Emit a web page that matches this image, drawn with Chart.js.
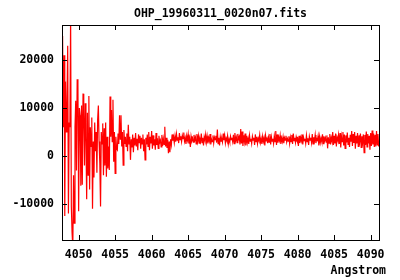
<!DOCTYPE html>
<html>
<head>
<meta charset="utf-8">
<script src="https://cdn.jsdelivr.net/npm/chart.js@4"></script>
<style>
  body { margin: 0; background: #fff; }
  canvas { display: block; }
</style>
</head>
<body>
<canvas id="spectrum" width="400" height="280"></canvas>
<script>
// wavelength grid of the spectrum (Angstrom)
const lambdaStart = 4047.7;
const lambdaStep = 0.1;

// flux: noisy blue end, 4047.7 - 4063.0
const fluxBlue = [
    8000, 25000, 6000, 21000, -12500, 15500, 5000, 10500, 23000, -12000,
    7000, 6000, 29000, -10500, -16000, -19000, -4000, -14000, 6000, 11500,
    -3000, 16000, 15000, -11500, 10000, 8500, -6200, 10500, -6000, 13000,
    9000, -2000, 11000, 4000, -9000, 9000, -4000, 12500, -7000, 6000,
    2000, 8000, -11000, 3000, -4500, 7000, 1000, 5000, -3500, 7500,
    10500, 3000, -1500, -10500, 5000, 2500, 6800, -4000, 5800, -2000,
    7000, -4300, 4000, -2600, 2000, -2900, 12400, 4000, 9600, 3000,
    11700, -1200, 5000, -3600, 4000, 1500, 1250, 4700, 2500, 8500,
    3500, 8500, 2000, 5000, -1900, 5400, 2500, 4000, 2000, 4700,
    1000, 6500, 2500, 4000, -800, 3500, 1800, 4500, 800, 3800,
    2200, 4800, 2000, 3600, 1200, 4500, 2800, 4200, 1500, 3800,
    2500, 4500, 1000, 3500, -800, 3800, 2400, 4500, 2000, 5000,
    1200, 4000, 2600, 5200, 1500, 4300, 2200, 3500, 1300, 4800,
    2300, 3700, 1600, 4200, 2800, 3300, 1900, 4400, 2100, 3600,
    2400, 6100, 2000, 3800, 1700, 3400, 600, 3000, 800, 3500,
    2400, 4500, 3200, 4000
];

// flux, quieter red part, 4063.1 - 4091.1
const fluxRed = [
    2800, 4200, 3000, 4600, 3300, 3900, 2700, 4800, 3400, 4100,
    3000, 4300, 3600, 4900, 3100, 3800, 2500, 4200, 3300, 4500,
    2600, 3500, 1900, 4100, 3200, 3700, 2900, 4400, 3300, 3900,
    2500, 4600, 3100, 4200, 2700, 3600, 3000, 4700, 2800, 3800,
    2200, 4000, 3300, 4500, 2900, 4100, 2600, 3800, 3100, 4600,
    2400, 3500, 3000, 4300, 2700, 3900, 3400, 4200, 2800, 5500,
    2600, 3800, 2200, 4000, 3100, 3600, 2900, 4700, 3300, 4300,
    2700, 3700, 3200, 4200, 2500, 3500, 2900, 4100, 3400, 3800,
    3000, 4400, 2600, 4800, 3200, 3900, 2800, 4600, 3500, 4000,
    2400, 5600, 2600, 5100, 2100, 4300, 3000, 4700, 2200, 4200,
    2800, 3700, 2500, 4300, 3100, 3600, 2600, 4100, 3300, 3800,
    2300, 4500, 3000, 4000, 2600, 3700, 3200, 4400, 2800, 3600,
    2500, 4100, 3000, 3800, 2200, 4300, 3300, 3700, 2700, 3900,
    2900, 4600, 2400, 4000, 3100, 3600, 2600, 4200, 3000, 5200,
    2300, 4500, 2800, 3900, 3200, 4300, 2500, 3700, 3000, 4000,
    2700, 3800, 3300, 4200, 2900, 3600, 3100, 4100, 2600, 3900,
    3000, 4400, 2500, 4700, 3200, 3800, 2800, 4000, 3400, 3700,
    2100, 4200, 2700, 3800, 3100, 4500, 2400, 3900, 3200, 3600,
    2600, 4300, 3000, 3700, 2300, 4100, 3300, 3800, 2800, 4600,
    2500, 3900, 3100, 4400, 2700, 3600, 3300, 4200, 2200, 4000,
    2800, 3700, 3000, 4500, 2600, 4100, 3200, 3800, 2900, 4300,
    1600, 3900, 2700, 4600, 2400, 3800, 3100, 5000, 2300, 4200,
    2600, 4700, 2000, 3900, 3300, 4400, 2500, 4800, 1800, 4100,
    3000, 5000, 2200, 4500, 1600, 4300, 2800, 4900, 2400, 3800,
    1900, 4400, 3000, 5200, 2100, 4600, 2700, 5000, 1500, 4200,
    2600, 4800, 2000, 4300, 3100, 4700, 1800, 4100, 2900, 4500,
    700, 4400, 2300, 5100, 1900, 4600, 2600, 4200, 1300, 4800,
    2100, 5300, 2400, 4700, 1900, 4400, 2000, 5200, 2300, 4600, 2000
];

const xTicks = [4050, 4055, 4060, 4065, 4070, 4075, 4080, 4085, 4090];
const yTicks = [-10000, 0, 10000, 20000];
const xRange = [4047.72, 4091.14];
const yRange = [-17500, 27300];

const flux = fluxBlue.concat(fluxRed);
const points = flux.map((f, i) => ({ x: +(lambdaStart + i * lambdaStep).toFixed(2), y: f }));

const FONT = "'DejaVu Sans Mono', 'Liberation Mono', monospace";

// gnuplot style frame with inward ticks, title and axis label
const framePlugin = {
    id: "frame",
    afterDraw(chart) {
        const { ctx, chartArea: a, scales } = chart;
        ctx.save();
        ctx.strokeStyle = "#000";
        ctx.lineWidth = 1;
        ctx.strokeRect(a.left + 0.5, a.top + 0.5, a.right - a.left, a.bottom - a.top);
        ctx.beginPath();
        xTicks.forEach(v => {
            const px = Math.round(scales.x.getPixelForValue(v)) + 0.5;
            ctx.moveTo(px, a.bottom); ctx.lineTo(px, a.bottom - 5);
            ctx.moveTo(px, a.top); ctx.lineTo(px, a.top + 5);
        });
        yTicks.forEach(v => {
            const py = Math.round(scales.y.getPixelForValue(v)) + 0.5;
            ctx.moveTo(a.left, py); ctx.lineTo(a.left + 5, py);
            ctx.moveTo(a.right, py); ctx.lineTo(a.right - 5, py);
        });
        ctx.stroke();

        ctx.fillStyle = "#000";
        ctx.font = "bold 11.5px " + FONT;
        ctx.textBaseline = "middle";
        ctx.textAlign = "center";
        ctx.fillText("OHP_19960311_0020n07.fits", (a.left + a.right) / 2, 14);
        ctx.textAlign = "right";
        ctx.fillText("Angstrom", 386, 271);
        ctx.restore();
    }
};

new Chart(document.getElementById("spectrum"), {
    type: "line",
    data: {
        datasets: [{
            data: points,
            borderColor: "#ff0000",
            borderWidth: 1.2,
            pointRadius: 0,
            tension: 0,
            fill: false
        }]
    },
    options: {
        responsive: false,
        animation: false,
        events: [],
        layout: { padding: { top: 25, right: 21, left: 0, bottom: 0 } },
        plugins: { legend: { display: false }, tooltip: { enabled: false } },
        scales: {
            x: {
                type: "linear",
                min: xRange[0],
                max: xRange[1],
                afterBuildTicks: s => { s.ticks = xTicks.map(v => ({ value: v })); },
                afterFit: s => { s.height = 40; },
                grid: { display: false, drawTicks: false },
                border: { display: false },
                ticks: {
                    padding: 8,
                    maxRotation: 0,
                    color: "#000",
                    font: { family: FONT, size: 11.5, weight: "bold" },
                    callback: v => String(v)
                }
            },
            y: {
                min: yRange[0],
                max: yRange[1],
                afterBuildTicks: s => { s.ticks = yTicks.map(v => ({ value: v })); },
                afterFit: s => { s.width = 62; },
                grid: { display: false, drawTicks: false },
                border: { display: false },
                ticks: {
                    padding: 8,
                    color: "#000",
                    font: { family: FONT, size: 11.5, weight: "bold" },
                    callback: v => String(v)
                }
            }
        }
    },
    plugins: [framePlugin]
});
</script>
</body>
</html>
